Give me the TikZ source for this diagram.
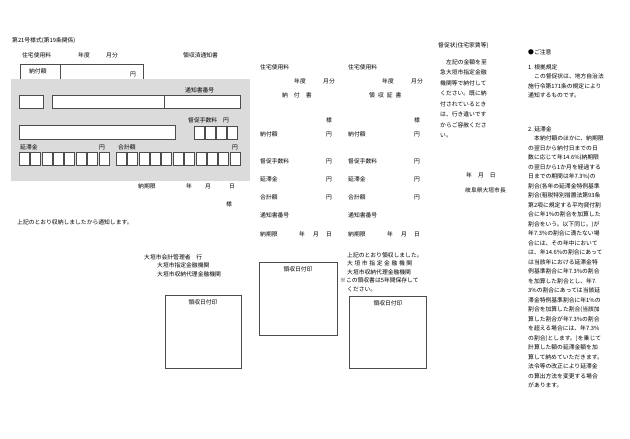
\documentclass[tikz,border=0pt]{standalone}
\usepackage{fontspec}
\setmainfont{Noto Sans CJK JP}
\begin{document}
\begin{tikzpicture}[x=1pt,y=-1pt,
  txt/.style={anchor=west,inner sep=0pt,font=\fontsize{5.8}{9.5}\selectfont},
  para/.style={txt,anchor=north west,align=left},
  frm/.style={draw=black!70,line width=0.5pt},
  cell/.style={draw=black!70,fill=white,line width=0.5pt}]
\useasboundingbox (0,0) rectangle (630,439);

% Part A: left slip (notice of receipt)

\node[txt] (form) at (12,41) {第21号様式(第19条関係)};
\node[txt] (lfee) at (22,55) {住宅使用料};
\node[txt] (lyear) at (78,55) {年度};
\node[txt] (lmon) at (106,55) {月分};
\node[txt] (ltitle) at (183,55) {領収済通知書};

% payment box
\draw[frm] (20,64) rectangle (143,79);
\draw[frm] (60,64)--(60,79);
\node[txt] (lamt) at (29,71) {納付額};
\node[txt] (lyen) at (130,74) {円};

% gray panel
\fill[black!14] (11,79) rectangle (250,181);
\node[txt] (lno) at (185,90) {通知書番号};
\draw[cell] (19,95) rectangle (43,108);
\draw[cell] (52,95) rectangle (240,108);
\draw[frm] (164,95)--(164,108);
\node[txt] (lfine) at (188,120) {督促手数料\quad 円};
\draw[cell] (19,125) rectangle (175,139);
\foreach \i in {0,...,3}
  \draw[cell] (194+\i*11.2,126) rectangle (204+\i*11.2,139);
\node[txt] (llate) at (20,147) {延滞金};
\node[txt] (llyen) at (99,147) {円};
\node[txt] (ltot) at (118,147) {合計額};
\node[txt] (ltyen) at (232,147) {円};
\foreach \i in {0,...,7}
  \draw[cell] (19+\i*11.4,152) rectangle (29+\i*11.4,165);
\foreach \i in {0,...,10}
  \draw[cell] (116+\i*11.4,152) rectangle (126+\i*11.4,165);

\node[txt] (ldue) at (138,186) {納期限};
\node[txt] (ldy) at (186,186) {年};
\node[txt] (ldm) at (205,186) {月};
\node[txt] (ldd) at (229,186) {日};
\node[txt] (lsama) at (226,204) {様};
\node[txt] (lnote) at (17,222) {上記のとおり収納しましたから通知します。};
\node[para,font=\fontsize{5.8}{8.6}\selectfont] (lto) at (144,254) {大垣市会計管理者\quad 行\\
\hspace*{13pt}大垣市指定金融機関\\
\hspace*{13pt}大垣市収納代理金融機関};
\draw[frm] (165,295) rectangle (241,368);
\node[txt,anchor=north] (lstamp) at (203,299) {領収日付印};

% Part B: middle slips (payment slip and receipt)

\foreach \x/\n in {260/a,348/b}{
  \node[txt] (fee\n) at (\x,67) {住宅使用料};
  \node[txt] (yr\n) at (\x+34,81) {年度};
  \node[txt] (mo\n) at (\x+63,81) {月分};
  \node[txt] (amt\n) at (\x,134) {納付額};
  \node[txt] (fine\n) at (\x,161) {督促手数料};
  \node[txt] (late\n) at (\x,179) {延滞金};
  \node[txt] (tot\n) at (\x,197) {合計額};
  \node[txt] (no\n) at (\x,215) {通知書番号};
  \node[txt] (due\n) at (\x,234) {納期限};
  \node[txt] (dy\n) at (\x+39,234) {年};
  \node[txt] (dm\n) at (\x+53,234) {月};
  \node[txt] (dd\n) at (\x+66,234) {日};
  \node[txt] (sa\n) at (\x+66,120) {様};
  \foreach \y in {134,161,179,197}
    \node[txt] at (\x+66,\y) {円};
}
\node[txt] (slip) at (282,95) {納\hspace{6pt}付\hspace{6pt}書};
\node[txt] (rcpt) at (369,95) {領\hspace{3pt}収\hspace{3pt}証\hspace{3pt}書};
\draw[frm] (259,262) rectangle (337,335);
\node[txt,anchor=north] (mstamp) at (298,266) {領収日付印};
\node[para,font=\fontsize{5.8}{8.6}\selectfont] (mnote) at (340,252) {\hspace*{7pt}上記のとおり領収しました。\\
\hspace*{7pt}大\hspace{1.6pt}垣\hspace{1.6pt}市\hspace{1.6pt}指\hspace{1.6pt}定\hspace{1.6pt}金\hspace{1.6pt}融\hspace{1.6pt}機\hspace{1.6pt}関\\
\hspace*{7pt}大垣市収納代理金融機関\\
※この領収書は5年間保存して\\
\hspace*{7pt}ください。};
\draw[frm] (349,296) rectangle (426,368);
\node[txt,anchor=north] (rstamp) at (388,300) {領収日付印};

% Part C: reminder and notes

\node[txt] (rem) at (438,46) {督促状(住宅家賃等)};
\node[para,font=\fontsize{5.8}{10.5}\selectfont] (remtext) at (440,59) {\hspace*{6pt}左記の金額を至\\
急大垣市指定金融\\
機関等で納付して\\
ください。既に納\\
付されているとき\\
は、行き違いです\\
からご容赦くださ\\
い。};
\node[txt] (rdate) at (466,175) {年\hspace{6pt}月\hspace{6pt}日};
\node[txt] (mayor) at (465,190) {岐阜県大垣市長};

\node[txt] (care) at (528,52) {●ご注意};
\node[para] (basis) at (528,64) {1.\ 根拠規定\\
\hspace*{6pt}この督促状は、地方自治法\\
施行令第171条の規定により\\
通知するものです。};
\node[para] (delay) at (528,126) {2.\ 延滞金\\
\hspace*{6pt}本納付額のほかに、納期限\\
の翌日から納付日までの日\\
数に応じて年14.6\%(納期限\\
の翌日から1か月を経過する\\
日までの期間は年7.3\%)の\\
割合(各年の延滞金特例基準\\
割合(租税特別措置法第93条\\
第2項に規定する平均貸付割\\
合に年1\%の割合を加算した\\
割合をいう。以下同じ。)が\\
年7.3\%の割合に満たない場\\
合には、その年中において\\
は、年14.6\%の割合にあって\\
は当該年における延滞金特\\
例基準割合に年7.3\%の割合\\
を加算した割合とし、年7.\\
3\%の割合にあっては当該延\\
滞金特例基準割合に年1\%の\\
割合を加算した割合(当該加\\
算した割合が年7.3\%の割合\\
を超える場合には、年7.3\%\\
の割合)とします。)を乗じて\\
計算した額の延滞金額を加\\
算して納めていただきます。\\
法令等の改正により延滞金\\
の算出方法を変更する場合\\
があります。};
\end{tikzpicture}
\end{document}
